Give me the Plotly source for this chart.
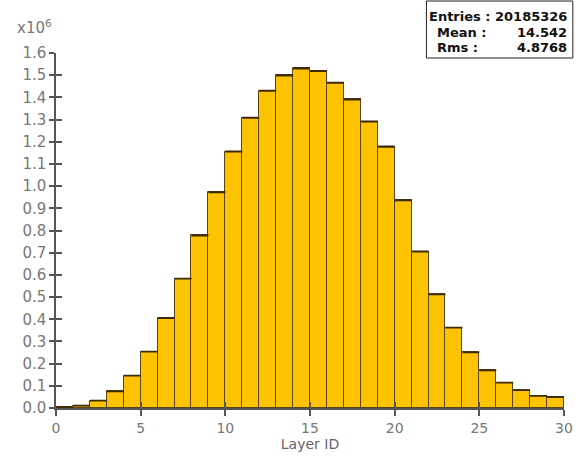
import plotly.graph_objects as go
import numpy as np

# Histogram of Layer ID (bin lower edges 0..29, width 1); counts in units of 10^6
bin_edges = list(range(0, 31))
counts_m = [0.005, 0.011, 0.033, 0.075, 0.146, 0.254, 0.405, 0.583, 0.778, 0.972,
            1.156, 1.308, 1.430, 1.499, 1.531, 1.519, 1.466, 1.391, 1.291, 1.178,
            0.936, 0.705, 0.512, 0.362, 0.251, 0.170, 0.114, 0.080, 0.055, 0.049]
x_ticks = [0, 5, 10, 15, 20, 25, 30]
y_ticks = [round(0.1 * i, 1) for i in range(17)]
stats_labels = ["Entries :", "Mean :", "Rms :"]
stats_values = ["20185326", "14.542", "4.8768"]

centers = [(bin_edges[i] + bin_edges[i + 1]) / 2 for i in range(len(counts_m))]
errs = [np.sqrt(c * 1e6) / 1e6 for c in counts_m]

W, H = 584, 459
ML, MR, MT, MB = 56, 11, 53, 51
PW, PH = W - ML - MR, H - MT - MB


def px(xp):
    return (xp - ML) / PW


def py(yp):
    return (H - MB - yp) / PH


fig = go.Figure()
fig.add_trace(go.Bar(
    x=centers, y=counts_m, width=1,
    marker=dict(color="#FDC300", line=dict(color="#5a4410", width=1)),
    error_y=dict(type="data", array=errs, visible=True, color="#3a2a05",
                 thickness=1.6, width=8.5),
    hoverinfo="x+y", showlegend=False,
))

xfont = dict(family="DejaVu Sans", size=14, color="#777777")
yfont = dict(family="DejaVu Sans", size=15, color="#777777")
fig.update_layout(
    width=W, height=H,
    margin=dict(l=ML, r=MR, t=MT, b=MB),
    paper_bgcolor="white", plot_bgcolor="white",
    bargap=0,
    xaxis=dict(range=[0, 30], tickvals=x_ticks, ticks="outside", ticklen=6,
               tickcolor="#555", tickwidth=1.5, showline=True, linecolor="#555",
               linewidth=1.5, showgrid=False, zeroline=False, tickfont=xfont,
               title=dict(text="Layer ID", font=dict(family="DejaVu Sans", size=14, color="#666"),
                          standoff=2)),
    yaxis=dict(range=[0, 1.6], tickvals=y_ticks, tickformat=".1f", ticks="outside",
               ticklen=5, tickcolor="#555", tickwidth=1.5, showline=True, linecolor="#555",
               linewidth=1.5, showgrid=False, zeroline=False, tickfont=yfont),
    xaxis2=dict(range=[0, 30], tickvals=x_ticks, ticks="inside", ticklen=6,
                tickcolor="#555", tickwidth=1.5, showticklabels=False, overlaying="x",
                showgrid=False, zeroline=False, showline=False),
    yaxis2=dict(range=[0, 1.6], tickvals=y_ticks, ticks="inside", ticklen=6,
                tickcolor="#555", tickwidth=1.5, showticklabels=False, overlaying="y",
                showgrid=False, zeroline=False, showline=False),
)
# invisible trace to activate overlay axes for crossing tick marks
fig.add_trace(go.Scatter(x=[None], y=[None], xaxis="x2", yaxis="y2", showlegend=False))

fig.add_annotation(text="x10<sup>6</sup>", xref="paper", yref="paper",
                   x=px(14), y=py(39), xanchor="left", yanchor="bottom", showarrow=False,
                   font=dict(family="DejaVu Sans", size=15, color="#777777"))

# stats box
fig.add_shape(type="rect", xref="paper", yref="paper", x0=px(433), x1=px(582),
              y0=py(58), y1=py(1), line=dict(color="#222", width=1), fillcolor="white")
sfont = dict(family="DejaVu Sans", size=13, color="#111")
row_centers = [17, 32, 47.5]
for lab, val, yc in zip(stats_labels, stats_values, row_centers):
    if lab.startswith("Entries"):
        fig.add_annotation(text="<b>%s %s</b>" % (lab, val), xref="paper", yref="paper",
                           x=px(578), y=py(yc), xanchor="right", yanchor="middle",
                           showarrow=False, font=sfont)
    else:
        fig.add_annotation(text="<b>%s</b>" % lab, xref="paper", yref="paper",
                           x=px(442), y=py(yc), xanchor="left", yanchor="middle",
                           showarrow=False, font=sfont)
        fig.add_annotation(text="<b>%s</b>" % val, xref="paper", yref="paper",
                           x=px(578), y=py(yc), xanchor="right", yanchor="middle",
                           showarrow=False, font=sfont)

fig.write_html("out.html")
